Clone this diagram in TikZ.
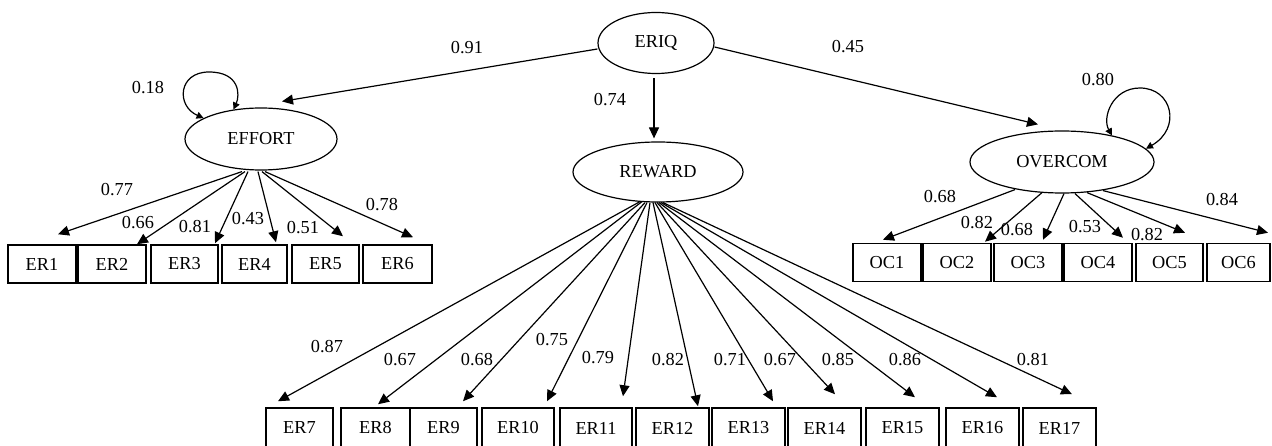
\documentclass[tikz,border=0pt]{standalone}
\usepackage{fontspec}
\setmainfont{Liberation Serif}
\usetikzlibrary{shapes.geometric,arrows.meta}
\begin{document}
\begin{tikzpicture}[x=1pt,y=-1pt,
 txt/.style={font=\fontsize{18.3}{21}\selectfont},
 lat/.style={ellipse,draw,line width=1.2pt,inner sep=0pt,txt},
 obs/.style={rectangle,draw,line width=1.5pt,inner sep=0pt,txt},
 obsA/.style={obs,minimum height=38pt},
 obsB/.style={obs,minimum height=40pt},
 arr/.style={line width=1.2pt,-{Triangle[length=11pt,width=10pt]}},
 lbl/.style={inner sep=0pt,txt},
 loopar/.style={line width=1.2pt,{Triangle[length=7pt,width=7pt]}-{Triangle[length=7pt,width=7pt]}}
]
\useasboundingbox (0,0) rectangle (1272,446);
\clip (0,0) rectangle (1272,446);

% latent variables
\node[lat,minimum width=116pt,minimum height=61pt] (eriq) at (656,43) {ERIQ};
\node[lat,minimum width=152pt,minimum height=62pt] (effort) at (261,139) {EFFORT};
\node[lat,minimum width=170pt,minimum height=60pt] (reward) at (658,172) {REWARD};
\node[lat,minimum width=184pt,minimum height=62pt] (overcom) at (1062,162) {OVERCOM};

% EFFORT indicators
\node[obsA,minimum width=68pt] (er1) at (42,264) {ER1};
\node[obsA,minimum width=68pt] (er2) at (112,264) {ER2};
\node[obsA,minimum width=67pt] (er3) at (184.5,264) {ER3};
\node[obsA,minimum width=65pt] (er4) at (254.5,264) {ER4};
\node[obsA,minimum width=67pt] (er5) at (325.5,264) {ER5};
\node[obsA,minimum width=69pt] (er6) at (397.5,264) {ER6};

% OVERCOM indicators
\node[obsA,minimum width=68pt] (oc1) at (887,262.5) {OC1};
\node[obsA,minimum width=68pt] (oc2) at (957,262.5) {OC2};
\node[obsA,minimum width=68pt] (oc3) at (1028,262.5) {OC3};
\node[obsA,minimum width=68pt] (oc4) at (1098,262.5) {OC4};
\node[obsA,minimum width=67pt] (oc5) at (1169.5,262.5) {OC5};
\node[obsA,minimum width=63pt] (oc6) at (1238.5,262.5) {OC6};

% REWARD indicators
\node[obsB,minimum width=67pt] (er7) at (299.5,428) {ER7};
\node[obsB,minimum width=69pt] (er8) at (375.5,428) {ER8};
\node[obsB,minimum width=67pt] (er9) at (443.5,428) {ER9};
\node[obsB,minimum width=72pt] (er10) at (518,428) {ER10};
\node[obsB,minimum width=72pt] (er11) at (596,428) {ER11};
\node[obsB,minimum width=73pt] (er12) at (672.5,428) {ER12};
\node[obsB,minimum width=73pt] (er13) at (748.5,428) {ER13};
\node[obsB,minimum width=73pt] (er14) at (824.5,428) {ER14};
\node[obsB,minimum width=73pt] (er15) at (902.5,428) {ER15};
\node[obsB,minimum width=73pt] (er16) at (982.5,428) {ER16};
\node[obsB,minimum width=73pt] (er17) at (1059.5,428) {ER17};

% second-order paths
\draw[arr] ([yshift=-6pt]eriq.west) -- ([xshift=21pt,yshift=6pt]effort.north);
\draw[arr] ([xshift=-2pt,yshift=-4pt]eriq.south) -- ([xshift=-4pt,yshift=3pt]reward.north);
\draw[arr] ([yshift=-4pt]eriq.east) -- ([xshift=-24pt,yshift=6pt]overcom.north);

% self loops
\draw[loopar] (effort.160) .. controls (176,106) and (178,72) .. (209,72) .. controls (240,72) and (240,95) .. (effort.133);
\draw[loopar] (overcom.28) .. controls (1102,118) and (1112,88) .. (1140,88) .. controls (1172,88) and (1182,128) .. (overcom.9);

% EFFORT loadings
\draw[arr] ([xshift=-19pt,yshift=-1pt]effort.south) -- ([xshift=16pt,yshift=10pt]er1.north);
\draw[arr] ([xshift=-16pt,yshift=-1pt]effort.south) -- ([xshift=25pt,yshift=0pt]er2.north);
\draw[arr] ([xshift=-13pt,yshift=-1pt]effort.south) -- ([xshift=30.5pt,yshift=1pt]er3.north);
\draw[arr] ([xshift=-3pt,yshift=-1pt]effort.south) -- ([xshift=21.5pt,yshift=2pt]er4.north);
\draw[arr] ([xshift=1pt,yshift=-1pt]effort.south) -- ([xshift=17.5pt,yshift=8pt]er5.north);
\draw[arr] ([xshift=4pt,yshift=-1pt]effort.south) -- ([xshift=15.5pt,yshift=7pt]er6.north);

% OVERCOM loadings
\draw[arr] ([xshift=-47pt,yshift=4pt]overcom.south) -- ([xshift=-4pt,yshift=3pt]oc1.north);
\draw[arr] ([xshift=-20pt,yshift=1pt]overcom.south) -- ([xshift=28pt,yshift=1pt]oc2.north);
\draw[arr] ([xshift=2pt,yshift=0pt]overcom.south) -- ([xshift=15pt,yshift=3pt]oc3.north);
\draw[arr] ([xshift=13pt,yshift=0pt]overcom.south) -- ([xshift=25pt,yshift=5pt]oc4.north);
\draw[arr] ([xshift=25pt,yshift=1pt]overcom.south) -- ([xshift=15.5pt,yshift=10pt]oc5.north);
\draw[arr] ([xshift=41pt,yshift=3pt]overcom.south) -- ([xshift=29.5pt,yshift=10pt]oc6.north);

% REWARD loadings
\draw[arr] ([xshift=-18pt,yshift=1pt]reward.south) -- ([xshift=-21.5pt,yshift=6pt]er7.north);
\draw[arr] ([xshift=-16pt,yshift=1pt]reward.south) -- ([xshift=2.5pt,yshift=3pt]er8.north);
\draw[arr] ([xshift=-13pt,yshift=0pt]reward.south) -- ([xshift=19.5pt,yshift=6pt]er9.north);
\draw[arr] ([xshift=-11pt,yshift=0pt]reward.south) -- ([xshift=29pt,yshift=6pt]er10.north);
\draw[arr] ([xshift=-8pt,yshift=0pt]reward.south) -- ([xshift=27pt,yshift=11pt]er11.north);
\draw[arr] ([xshift=-5pt,yshift=0pt]reward.south) -- ([xshift=25.5pt,yshift=1pt]er12.north);
\draw[arr] ([xshift=-3pt,yshift=0pt]reward.south) -- ([xshift=24.5pt,yshift=6pt]er13.north);
\draw[arr] ([xshift=-1pt,yshift=0pt]reward.south) -- ([xshift=10.5pt,yshift=13pt]er14.north);
\draw[arr] ([xshift=1pt,yshift=0pt]reward.south) -- ([xshift=12.5pt,yshift=10pt]er15.north);
\draw[arr] ([xshift=3pt,yshift=0pt]reward.south) -- ([xshift=14.5pt,yshift=10pt]er16.north);
\draw[arr] ([xshift=5pt,yshift=0pt]reward.south) -- ([xshift=12.5pt,yshift=13pt]er17.north);

% labels
\node[lbl] (l1) at (467,48) {0.91};
\node[lbl] (l2) at (610,100) {0.74};
\node[lbl] (l3) at (848,47) {0.45};
\node[lbl] (l4) at (148,88) {0.18};
\node[lbl] (l5) at (1098,80) {0.80};

\node[lbl] (e1) at (117,190) {0.77};
\node[lbl] (e2) at (138,223) {0.66};
\node[lbl] (e3) at (195,227) {0.81};
\node[lbl] (e4) at (248,219) {0.43};
\node[lbl] (e5) at (303,228) {0.51};
\node[lbl] (e6) at (382,205) {0.78};

\node[lbl] (o1) at (940,197) {0.68};
\node[lbl] (o2) at (977,223) {0.82};
\node[lbl] (o3) at (1017,230) {0.68};
\node[lbl] (o4) at (1085,227) {0.53};
\node[lbl] (o5) at (1147,235) {0.82};
\node[lbl] (o6) at (1222,200) {0.84};

\node[lbl] (r7) at (327,347) {0.87};
\node[lbl] (r8) at (400,360) {0.67};
\node[lbl] (r9) at (477,360) {0.68};
\node[lbl] (r10) at (552,340) {0.75};
\node[lbl] (r11) at (598,358) {0.79};
\node[lbl] (r12) at (668,360) {0.82};
\node[lbl] (r13) at (730,360) {0.71};
\node[lbl] (r14) at (780,360) {0.67};
\node[lbl] (r15) at (838,360) {0.85};
\node[lbl] (r16) at (905,360) {0.86};
\node[lbl] (r17) at (1033,360) {0.81};
\end{tikzpicture}
\end{document}
